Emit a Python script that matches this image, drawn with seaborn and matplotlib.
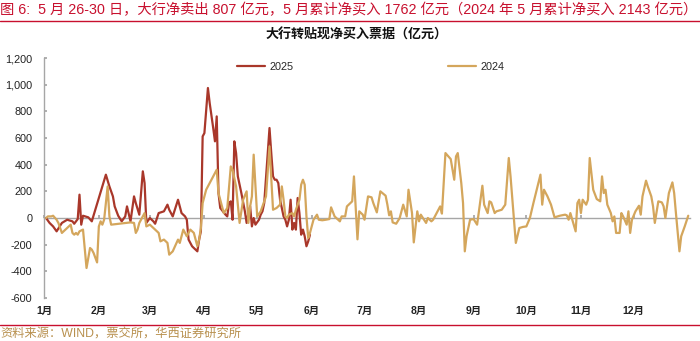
import matplotlib
matplotlib.use("Agg")
import matplotlib.pyplot as plt
import seaborn as sns
import pandas as pd
from matplotlib.lines import Line2D

# ---------------- data (day index from Jan 1, value in 亿元) ----------------
days_2025 = [1, 3, 5, 7, 10, 13, 16, 17, 19, 20, 21, 22, 25, 27, 35, 37, 39, 40, 42, 44,
             46, 47, 49, 51, 52, 54, 56, 57, 58, 60, 62, 63, 65, 68, 70, 71, 73, 76, 78, 80,
             81, 82, 84, 85, 87, 88, 89, 90, 91, 93, 94, 96, 97, 98, 99, 100, 103, 104, 105, 106,
             107, 108, 109, 110, 112, 114, 115, 116, 117, 118, 119, 120, 122, 123, 124, 125, 127, 128, 129, 130,
             131, 132, 133, 134, 135, 136, 137, 138, 139, 140, 141, 142, 143, 144, 145, 146, 147, 148, 149, 150,
             151]
vals_2025 = [0, -37, -63, -100, -37, -13, -25, -43, -8, 175, -50, 17, 5, -25, 325, 237, 162, 87, 17, -25,
             12, 87, -25, 162, 112, 25, 350, 262, -37, 0, -25, -43, 37, 50, 100, 62, 12, 137, 37, 12,
             -13, -162, -212, -225, -250, -162, -100, 612, 637, 975, 862, 675, 575, 762, 187, 75, 25, 12, 112, 125,
             -13, 575, 487, 312, 187, 50, -37, 37, 87, -63, 0, -50, -13, 25, 50, 112, 487, 675, 487, 312,
             287, 287, 262, 137, 75, 12, -13, -63, -13, 137, -87, -37, -87, 150, 37, -125, -87, -137, -212, -175,
             -125]

days_2024 = [1, 2, 4, 5, 7, 8, 10, 12, 14, 15, 16, 17, 18, 19, 20, 22, 24, 26, 27, 28,
             30, 31, 32, 33, 34, 36, 37, 38, 49, 51, 52, 53, 54, 57, 58, 60, 62, 65, 66, 68,
             70, 71, 73, 76, 77, 79, 81, 83, 85, 87, 88, 89, 90, 92, 95, 98, 99, 101, 102, 104,
             106, 107, 109, 111, 113, 115, 116, 117, 118, 119, 121, 123, 124, 126, 128, 130, 132, 134, 135, 136,
             137, 138, 139, 141, 142, 143, 145, 146, 147, 148, 149, 150, 151, 152, 153, 155, 156, 158, 160, 162,
             163, 165, 166, 168, 169, 171, 172, 174, 175, 176, 178, 179, 181, 182, 184, 186, 187, 189, 191, 194,
             195, 196, 197, 198, 200, 202, 204, 206, 207, 209, 210, 212, 213, 214, 217, 218, 220, 221, 223, 225,
             226, 228, 231, 233, 234, 235, 237, 238, 239, 240, 242, 244, 246, 249, 250, 252, 253, 254, 256, 257,
             260, 262, 264, 265, 268, 270, 272, 274, 276, 278, 282, 283, 284, 286, 288, 290, 293, 296, 297, 298,
             299, 302, 303, 304, 305, 306, 308, 309, 310, 312, 314, 316, 317, 318, 319, 320, 322, 323, 324, 325,
             327, 328, 329, 331, 332, 333, 334, 336, 338, 339, 340, 342, 343, 345, 346, 347, 349, 351, 352, 353,
             355, 357, 358, 359, 361, 362, 364, 366]
vals_2024 = [0, 12, 12, 17, -13, -37, -112, -87, -63, -50, -112, -125, -112, -125, -100, -87, -375, -225, -237, -262,
             -333, -63, -25, -50, -13, 237, 12, -50, -33, -37, -112, -87, -37, 37, -63, -50, -75, -112, -175, -162,
             -187, -275, -250, -162, -187, -87, -137, -87, -112, -212, -162, -75, 112, 212, 287, 362, 187, 87, 37, 75,
             387, 362, 237, -37, 137, 200, -37, 87, 162, 475, 12, 50, 87, 162, 537, 62, 75, 100, 237, 137,
             12, 0, 25, 37, 12, 62, 137, 250, 287, 250, 12, -150, -112, -63, -13, 25, -13, -17, -13, -8,
             80, 12, 0, -25, 12, 12, 87, 112, 125, 312, -160, 50, 25, -13, 162, 155, 112, 42, 200, 167,
             100, 20, 50, -33, -43, 0, 100, 12, 212, 37, -183, 50, -25, 25, -37, 0, -25, -13, 37, 87,
             33, 487, 442, 287, 462, 487, 262, 112, -250, -137, -13, -8, -50, 242, 100, 37, 125, 117, 37, 50,
             62, 100, 450, 312, -187, -75, -67, -63, 0, 112, 325, 100, 212, 162, 100, 5, 17, 25, 20, -13,
             37, -100, 112, 137, 37, 137, 100, 137, 450, 212, 142, 125, 312, 187, 212, 100, 37, -25, 12, -112,
             -112, 37, 12, -50, 50, -112, -13, 50, 92, 25, 162, 280, 237, 162, 87, -37, 125, 117, 87, 0,
             187, 267, 187, 37, -250, -137, -63, 17]

month_ticks = [0, 31, 60, 91, 121, 152, 182, 213, 244, 274, 305, 335]
month_labels = ["1月", "2月", "3月", "4月", "5月", "6月", "7月", "8月", "9月", "10月", "11月", "12月"]
y_ticks = [-600, -400, -200, 0, 200, 400, 600, 800, 1000, 1200]

title_text = "图 6:  5 月 26-30 日，大行净卖出 807 亿元，5 月累计净买入 1762 亿元（2024 年 5 月累计净买入 2143 亿元）"
chart_title = "大行转贴现净买入票据（亿元）"
source_text = "资料来源：WIND，票交所，华西证券研究所"

# ---------------- style ----------------
sns.set_theme(style="white")
plt.rcParams["font.family"] = ["Liberation Sans", "Noto Sans CJK SC", "DejaVu Sans"]

RED = "#A9372A"
GOLD = "#D4A65C"
TITLE_RED = "#C8102E"
GRAY = "#A6A6A6"

df25 = pd.DataFrame({"day": days_2025, "value": vals_2025})
df24 = pd.DataFrame({"day": days_2024, "value": vals_2024})

fig = plt.figure(figsize=(7.0, 3.41), dpi=100)
ax = fig.add_axes([44.3 / 700, 1 - 298 / 341, (690 - 44.3) / 700, 240 / 341])

sns.lineplot(data=df25, x="day", y="value", ax=ax, color=RED, linewidth=1.6, zorder=3)
sns.lineplot(data=df24, x="day", y="value", ax=ax, color=GOLD, linewidth=1.6, zorder=4)

ax.set_xlim(0, 367)
ax.set_ylim(-600, 1200)
ax.set_xlabel("")
ax.set_ylabel("")
ax.set_yticks(y_ticks)
ax.set_yticklabels([f"{v:,}" for v in y_ticks])
ax.set_xticks(month_ticks)
ax.set_xticklabels(month_labels)

for s in ["top", "right"]:
    ax.spines[s].set_visible(False)
ax.spines["left"].set_color(GRAY)
ax.spines["left"].set_linewidth(1.0)
ax.spines["bottom"].set_position(("data", 0))
ax.spines["bottom"].set_color(GRAY)
ax.spines["bottom"].set_linewidth(1.0)
ax.spines["bottom"].set_zorder(2)

ax.tick_params(axis="y", direction="in", length=2, color=GRAY, labelsize=7.8,
               labelcolor="#222222", pad=8.5, left=True)
ax.tick_params(axis="x", direction="in", length=2, color=GRAY, labelsize=7.5,
               labelcolor="#222222", pad=63, bottom=True)
for lbl in ax.get_xticklabels():
    lbl.set_fontweight("bold")

# legends
h25 = Line2D([], [], color=RED, linewidth=1.6)
h24 = Line2D([], [], color=GOLD, linewidth=1.6)
leg1 = ax.legend([h25], ["2025"], loc="center left", bbox_to_anchor=((237 - 44.3) / 645.7, (298 - 67) / 240),
                 frameon=False, fontsize=7.8, handlelength=2.6, handletextpad=0.4,
                 borderpad=0, borderaxespad=0)
ax.add_artist(leg1)
leg2 = ax.legend([h24], ["2024"], loc="center left", bbox_to_anchor=((448 - 44.3) / 645.7, (298 - 67) / 240),
                 frameon=False, fontsize=7.8, handlelength=2.6, handletextpad=0.4,
                 borderpad=0, borderaxespad=0)

# texts and rules
fig.text(0.0, 1 - 10 / 341, title_text, ha="left", va="center", fontsize=10.3, color=TITLE_RED)
fig.add_artist(Line2D([0, 1], [1 - 21 / 341, 1 - 21 / 341], color=TITLE_RED, linewidth=1.0))
fig.text(357 / 700, 1 - 35 / 341, chart_title, ha="center", va="center", fontsize=9.4,
         fontweight="bold", color="#111111")
fig.add_artist(Line2D([0, 1], [1 - 325 / 341, 1 - 325 / 341], color=TITLE_RED, linewidth=1.0))
fig.text(0.0, 1 - 334 / 341, source_text, ha="left", va="center", fontsize=8.8, color="#B8904E")

fig.savefig("out.png", dpi=100)
